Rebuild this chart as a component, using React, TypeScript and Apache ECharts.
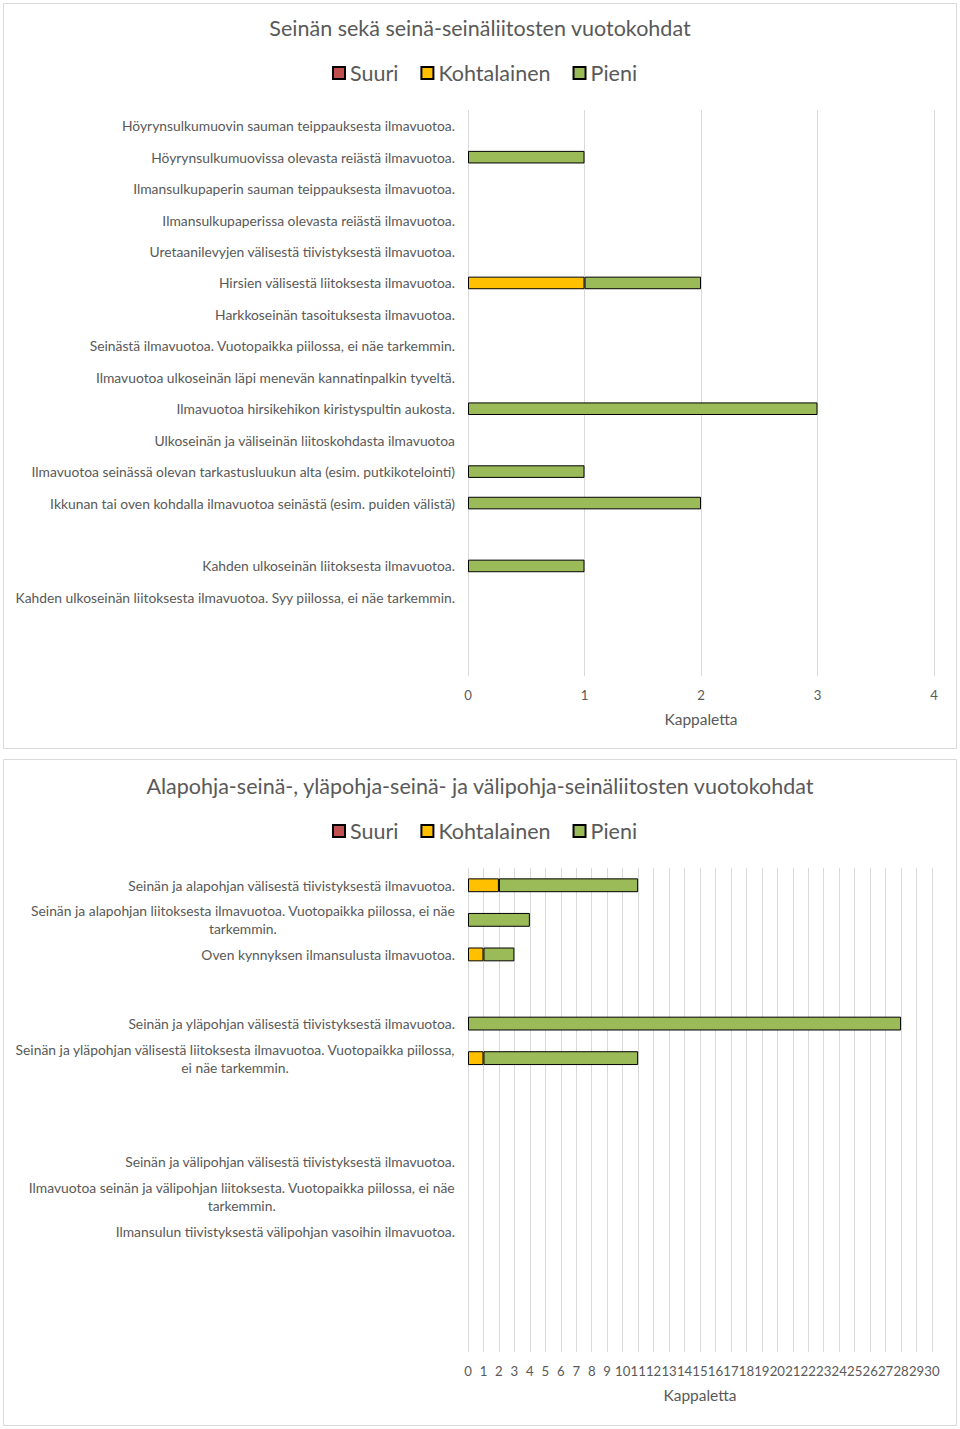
import React, { useEffect, useRef } from 'react';
import * as echarts from 'echarts';

const FONT = 'Lato, "Open Sans", sans-serif';
const TEXT = '#595959';
const GRID = '#D9D9D9';
const COLORS = { Suuri: '#C0504D', Kohtalainen: '#FFC000', Pieni: '#9BBB59' };
const SERIES_NAMES = ['Suuri', 'Kohtalainen', 'Pieni'];

const title1 = 'Seinän sekä seinä-seinäliitosten vuotokohdat';
const title2 = 'Alapohja-seinä-, yläpohja-seinä- ja välipohja-seinäliitosten vuotokohdat';
const axisName = 'Kappaletta';

const wallCategories = [
  'Höyrynsulkumuovin sauman teippauksesta ilmavuotoa.',
  'Höyrynsulkumuovissa olevasta reiästä ilmavuotoa.',
  'Ilmansulkupaperin sauman teippauksesta ilmavuotoa.',
  'Ilmansulkupaperissa olevasta reiästä ilmavuotoa.',
  'Uretaanilevyjen välisestä tiivistyksestä ilmavuotoa.',
  'Hirsien välisestä liitoksesta ilmavuotoa.',
  'Harkkoseinän tasoituksesta ilmavuotoa.',
  'Seinästä ilmavuotoa. Vuotopaikka piilossa, ei näe tarkemmin.',
  'Ilmavuotoa ulkoseinän läpi menevän kannatinpalkin tyveltä.',
  'Ilmavuotoa hirsikehikon kiristyspultin aukosta.',
  'Ulkoseinän ja väliseinän liitoskohdasta ilmavuotoa',
  'Ilmavuotoa seinässä olevan tarkastusluukun alta (esim. putkikotelointi)',
  'Ikkunan tai oven kohdalla ilmavuotoa seinästä (esim. puiden välistä)',
  ' ',
  'Kahden ulkoseinän liitoksesta ilmavuotoa.',
  'Kahden ulkoseinän liitoksesta ilmavuotoa. Syy piilossa, ei näe tarkemmin.',
  '  ',
  '   ',
];
const wallSuuri = [0, 0, 0, 0, 0, 0, 0, 0, 0, 0, 0, 0, 0, 0, 0, 0, 0, 0];
const wallKohtalainen = [0, 0, 0, 0, 0, 1, 0, 0, 0, 0, 0, 0, 0, 0, 0, 0, 0, 0];
const wallPieni = [0, 1, 0, 0, 0, 1, 0, 0, 0, 3, 0, 1, 2, 0, 1, 0, 0, 0];
const wallMax = 4;

const jointCategories = [
  'Seinän ja alapohjan välisestä tiivistyksestä ilmavuotoa.',
  'Seinän ja alapohjan liitoksesta ilmavuotoa. Vuotopaikka piilossa, ei näe\ntarkemmin.',
  'Oven kynnyksen ilmansulusta ilmavuotoa.',
  ' ',
  'Seinän ja yläpohjan välisestä tiivistyksestä ilmavuotoa.',
  'Seinän ja yläpohjan välisestä liitoksesta ilmavuotoa. Vuotopaikka piilossa,\nei näe tarkemmin.',
  '  ',
  '   ',
  'Seinän ja välipohjan välisestä tiivistyksestä ilmavuotoa.',
  'Ilmavuotoa seinän ja välipohjan liitoksesta. Vuotopaikka piilossa, ei näe\ntarkemmin.',
  'Ilmansulun tiivistyksestä välipohjan vasoihin ilmavuotoa.',
  '    ',
  '     ',
  '      ',
];
const jointSuuri = [0, 0, 0, 0, 0, 0, 0, 0, 0, 0, 0, 0, 0, 0];
const jointKohtalainen = [2, 0, 1, 0, 0, 1, 0, 0, 0, 0, 0, 0, 0, 0];
const jointPieni = [9, 4, 2, 0, 28, 10, 0, 0, 0, 0, 0, 0, 0, 0];
const jointMax = 30;

const CAT_FONT = 13.85;

const labelFormatter = (v: string) => {
  if (v.indexOf('\n') < 0) return v;
  return v
    .split('\n')
    .map((l) => `{c|${l}}`)
    .join('\n');
};

function makeSeries(idx: number, values: number[][]) {
  return SERIES_NAMES.map((name, i) => ({
    name,
    type: 'bar',
    stack: 'total' + idx,
    xAxisIndex: idx,
    yAxisIndex: idx,
    barWidth: '40%',
    itemStyle: {
      color: (COLORS as any)[name],
      borderColor: '#000',
      borderWidth: 1,
    },
    data: values[i].map((v) => (v === 0 ? null : v)),
  }));
}

function makeYAxis(idx: number, cats: string[]) {
  return {
    type: 'category',
    gridIndex: idx,
    inverse: true,
    data: cats,
    axisLine: { show: false },
    axisTick: { show: false },
    axisLabel: {
      interval: 0,
      margin: 13,
      color: TEXT,
      fontFamily: FONT,
      fontSize: CAT_FONT,
      lineHeight: 18,
      formatter: labelFormatter,
      rich: {
        c: { align: 'center', color: TEXT, fontFamily: FONT, fontSize: CAT_FONT, lineHeight: 18 },
      },
    },
  };
}

function makeXAxis(idx: number, max: number) {
  return {
    type: 'value',
    gridIndex: idx,
    min: 0,
    max,
    interval: 1,
    axisLine: { show: false },
    axisTick: { show: false },
    splitLine: { show: true, lineStyle: { color: GRID, width: 1 } },
    axisLabel: {
      margin: 12,
      color: TEXT,
      fontFamily: FONT,
      fontSize: 13.2,
      showMinLabel: true,
      showMaxLabel: true,
      hideOverlap: false,
    },
    name: axisName,
    nameLocation: 'middle',
    nameGap: 35,
    nameTextStyle: { color: TEXT, fontFamily: FONT, fontSize: 15.5 },
  };
}

const legendBase = {
  data: SERIES_NAMES,
  left: 332,
  padding: 0,
  itemWidth: 12,
  itemHeight: 12,
  itemGap: 22,
  icon: 'rect',
  textStyle: { color: TEXT, fontFamily: FONT, fontSize: 21.5 },
};

const titleStyle = { color: TEXT, fontFamily: FONT, fontSize: 21.5, fontWeight: 'normal' };

export default function App() {
  const ref = useRef<HTMLDivElement>(null);
  useEffect(() => {
    document.body.style.margin = '0';
    const chart = echarts.init(ref.current!, null, { renderer: 'svg' });
    chart.setOption({
      animation: false,
      backgroundColor: '#fff',
      title: [
        { text: title1, left: 'center', top: 17, padding: 0, textStyle: titleStyle },
        { text: title2, left: 'center', top: 775, padding: 0, textStyle: titleStyle },
      ],
      legend: [
        { ...legendBase, top: 62 },
        { ...legendBase, top: 820 },
      ],
      grid: [
        { left: 468, top: 110, width: 466, height: 566, containLabel: false },
        { left: 468, top: 868, width: 464, height: 484, containLabel: false },
      ],
      xAxis: [makeXAxis(0, wallMax), makeXAxis(1, jointMax)],
      yAxis: [makeYAxis(0, wallCategories), makeYAxis(1, jointCategories)],
      series: [
        ...makeSeries(0, [wallSuuri, wallKohtalainen, wallPieni]),
        ...makeSeries(1, [jointSuuri, jointKohtalainen, jointPieni]),
      ],
      graphic: [
        {
          type: 'rect',
          shape: { x: 3.5, y: 3.5, width: 953, height: 745 },
          style: { fill: 'none', stroke: GRID, lineWidth: 1 },
          silent: true,
        },
        {
          type: 'rect',
          shape: { x: 3.5, y: 759.5, width: 953, height: 666 },
          style: { fill: 'none', stroke: GRID, lineWidth: 1 },
          silent: true,
        },
      ],
    });
    return () => chart.dispose();
  }, []);
  return <div ref={ref} style={{ width: 960, height: 1429 }} />;
}
